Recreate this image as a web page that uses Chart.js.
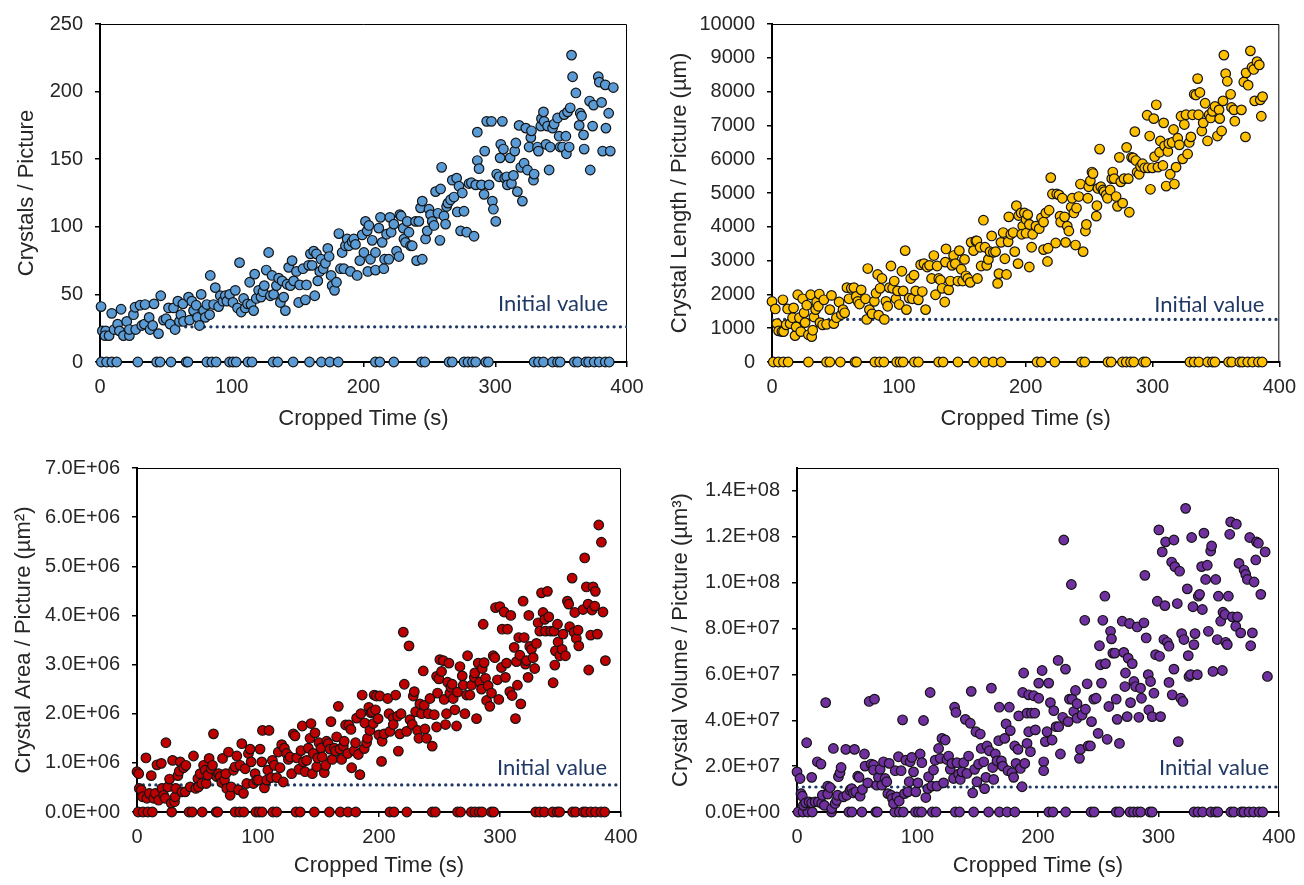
<!DOCTYPE html>
<html lang="en">
<head>
<meta charset="UTF-8">
<title>Crystal growth per picture</title>
<script src="https://cdn.jsdelivr.net/npm/chart.js"></script>
<style>
    body { margin: 0; background: #fff; width: 1304px; height: 885px; position: relative; overflow: hidden; }
    canvas { position: absolute; }
</style>
</head>
<body>
<canvas id="countChart" width="652" height="435" style="left:0;top:0"></canvas>
<canvas id="lengthChart" width="652" height="435" style="left:652px;top:0"></canvas>
<canvas id="areaChart" width="652" height="442" style="left:0;top:440px"></canvas>
<canvas id="volumeChart" width="652" height="442" style="left:652px;top:440px"></canvas>
<script>
// pictures with no crystals (value 0), same times in every panel
const zeroTimes = [1,5,9,12.7,28.7,43,45.6,53.9,65.4,66.7,81.1,84.9,88.2,98.3,100.9,103.4,112.3,115.4,131.4,134.9,146.6,159,168,174.4,180.8,
    209,212.4,223,244,246.6,264.9,267.4,276.3,279.3,282.7,285.2,292.8,294.8,329.5,332.8,336.6,343.5,347.3,349.3,360,362.5,368.8,370.9,375.1,378.9,383.5,386.5];

// [time s, crystals per picture]
const crystalsPts = [[0.8,41],[1.8,23],[4.3,23],[3.8,19.5],[6.9,19.5],[8.9,36],[10.7,24],[13.4,28],[16,39],[14.7,23],[17.8,19.5],[22.3,19.5],[20.3,30],[22.3,24],[25.4,35],[26.6,40.5],[27.1,24],[30.4,42],[31.7,27],[33.7,28],[34.2,42.5],[37.3,33],[38,24],[40,27],[41,43],[44.4,21],[46.1,49],[48.2,31],[50.2,32],[52,40],[53.2,28],[55.8,40],[57,24],[59.1,45],[60.3,30],[61.4,35],[62.9,43],[63.4,30],[67.2,48],[68,31],[69.7,45],[71,38],[73,42],[74,33],[75.5,27],[76.8,50],[78.6,38],[79.9,33],[81.1,42.5],[83.2,35],[83.7,64],[86.2,42.5],[87.5,55],[90,41],[91.3,49],[93.3,45],[95.1,49],[96.3,45],[98.4,50],[100.9,44],[102.7,53],[104.4,40],[105.9,73.5],[107.2,37],[109,47],[110.3,40],[112,43],[113.6,59],[114.6,42.5],[116.6,38],[117.4,65],[118.6,47],[120.4,53],[122.2,48],[123.7,52],[124.7,56.5],[126.2,68],[128,81],[129.3,49],[130.6,64],[131.8,50],[133.9,56.5],[135.6,62],[136.9,44],[138.2,60],[139.4,48],[140.7,38],[142,57.5],[143.2,70],[144.5,56.5],[145.8,75],[147,60],[149.1,67],[150.8,44],[151.6,57],[154.1,69],[155.9,46],[156.7,57],[158.4,71.5],[159.7,80],[161,71.5],[162.2,82],[163,49],[164.3,80],[165.3,60],[166.8,67],[167.8,76],[169.4,69],[171.1,73],[172.9,84],[173.9,78],[175.4,64],[176.2,56.5],[178,53],[179.5,59],[181.3,95],[182.5,69],[183.8,81],[185.1,69],[186.3,86],[187.6,91],[188.9,86],[190.1,67],[191.4,89],[192.7,91],[193.9,87],[195.2,64],[197.2,75],[199,94],[200.3,81],[201.5,104],[203.3,67],[202.8,97],[204.1,101],
    [206.6,90],[205.3,76],[209.1,81],[209.1,68],[211.6,99],[212.9,107],[214.2,88.5],[216,76],[215.4,69],[217.5,94.5],[219.2,76],[220,107],[221,96],[223,102],[225.1,82],[226.9,78],[227.6,109],[228.6,108],[230.2,99],[230.7,91],[231.9,88.5],[233.2,104],[234.5,96],[235.7,86],[237,86],[239.5,104],[240.3,75],[242,104],[244.6,76],[243.3,114],[244.6,119],[247.1,91],[248.4,97],[249.7,113],[250.9,109],[252.2,104],[253.5,101],[254.7,126],[256.5,110],[258,90],[258.5,128],[259.3,144],[261.1,108],[262.3,102],[263.1,115],[264.1,117.5],[266.1,120],[267.4,134.5],[268.7,122],[270.7,136],[271.2,111],[272.5,130],[273.7,97],[275,125],[276.3,111.5],[278.3,96],[280.1,132],[281.9,132.6],[283.9,93],[285.2,131],[286.4,170],[286.4,149],[287.7,143],[289.5,131],[291.5,124],[292,156],[293.5,178],[295.3,131],[297.1,178],[297.8,119],[298.6,113],[300.4,104],[301.1,139],[302.9,137],[304.2,161],[303.7,151],[305.4,178],[306.2,157.5],[307.2,136],[308.7,137],[309.2,131],[311.3,151],[312.3,132],[313.8,138],[314.8,156],[315.6,162],[316.8,126],[318.1,175],[319.4,144],[320.6,119],[321.9,147],[323.2,173],[324.5,142],[325.7,159],[327,166],[327.5,171],[329,134.5],[329.5,139],[332.1,159],[332.8,156],[334.6,174.5],[335.1,180],[336.6,185],[337.1,178],[338.6,161],[339.7,174.5],[340.9,142],[341.7,159],[343.5,173],[344.7,176],[347.3,180.5],[348.5,167],[349.3,159],[351.1,159],[352.3,183],[354,154],[353.6,167],[354.9,185],[356.1,159],[356.9,188],[357.9,227],[358.7,211],[361.2,199],[363.7,175],[364.5,184],[365.5,182],[367,168],[367.5,157.5],[371.6,193],[372.1,142],[373.9,174.5],[374.6,190],[378.2,211],[379,207],[380.7,192],[381.5,156],[383.5,205],[384,173],[386.1,184],[387.3,156],[389.6,203]];

// [time s, crystal length per picture in µm]
const lengthPts = [[0,1790],[2.6,1570],[3.9,1135],[5.2,920],[7.8,900],[9.1,900],[8.6,1840],[11.2,1100],[12.3,1570],[14.3,1135],[16.2,1310],[17,1600],[18.2,780],[19,1040],[20.3,1990],[21.6,1310],[22.7,900],[24.2,1870],[25.3,1455],[26.1,1165],[27.4,1680],[28.7,805],[30.5,1990],[31.3,750],[32.1,940],[33.1,1330],[34.4,1550],[35.2,1775],[36.5,1650],[37.3,2010],[37.8,1165],[39.9,1100],[40.9,1840],[43,1115],[45.6,1550],[46.9,1970],[48.7,1135],[50.8,1310],[52.9,1775],[54.7,1405],[56,1550],[57.3,1455],[59.1,2200],[60.7,1870],[62.5,2180],[64.6,2200],[66.4,1940],[67.7,1795],[69,1715],[70.3,2135],[73.7,1870],[74.7,1260],[75.5,2765],[76.8,1550],[78.9,1425],[80.7,1795],[82,2035],[83.3,2590],[84.1,1385],[85.2,2180],[86.7,2470],[88.6,1260],[89.8,1795],[91.2,1650],[92.5,2200],[93.8,2840],[95.1,2180],[96.4,2395],[97.7,1870],[99,2105],[100.3,1700],[102.4,2685],[103.4,2105],[105,3295],[106,1550],[108.1,1890],[109.4,2470],[110.7,1870],[112,2570],[113.3,2105],[115.4,1840],[117.2,2880],[118.5,2085],[119.8,2910],[121.1,1550],[122.4,2810],[124.2,2860],[125.8,2470],[127.6,3150],[128.9,1990],[130.2,2840],[131.5,2470],[132.8,2425],[134.1,2180],[136.2,1775],[136.7,2955],[137.2,3345],[139.3,2135],[140.6,2395],[141.9,2860],[143.2,3150],[144.5,2910],[146.6,2395],[147.7,3295],[149.2,2745],[150.3,2395],[151.8,3035],[152.9,2550],[154.4,2470],[156.3,2355],[157,3540],[158.9,3295],[160.7,3585],[161.5,3585],[162,2470],[164.1,3395],[164.9,2840],[166.7,4195],[168,3395],[169.3,2860],[170.6,3035],[171.9,3265],[173.2,3730],[174.5,3245],[176.3,3265],[177.9,2325],[178.9,2615],[180.5,3540],[182.3,3830],[183.6,3055],[184.9,2590],[186.2,3555],[186.7,4295],[188.3,3780],[190.1,3830],[191.4,3265],[192.7,4625],[194,2910],[194.5,4335],
    [196.4,4410],[197.7,4020],[199,4410],[200.3,4215],[201.6,4360],[196.9,3780],[200.3,3810],[202.9,4070],[205.5,3780],[202.9,2810],[204.7,3395],[208.1,4020],[210.7,3945],[212.5,4265],[214.1,4140],[214.1,3325],[215.9,4410],[217.2,2975],[217.7,3365],[218.5,4490],[219.8,5455],[221.1,4970],[223.7,3520],[224.5,4970],[226.3,4945],[227.1,4315],[227.6,4140],[228.9,4845],[230.7,4295],[231.5,3540],[232.8,4020],[234.1,3875],[235.9,4585],[236.7,4845],[238,4410],[239.3,3460],[240.1,4555],[241.9,4895],[243.2,5265],[245.3,3265],[247.1,3875],[247.9,4070],[249,4845],[249.7,5185],[251,5360],[252.3,5620],[253.1,5575],[255.7,4315],[256.2,4625],[257,5135],[258.3,6300],[259.3,5185],[260.9,5090],[261.9,5040],[263.5,4945],[264.5,4845],[266.6,5090],[267.9,5425],[268.7,5620],[269.8,5425],[271.3,4895],[272.4,4605],[273.9,6055],[275,5330],[276.5,4700],[277.6,5425],[279.6,6350],[280.9,5425],[281.7,4430],[283.5,6055],[284.8,6040],[286.1,6815],[286.9,5960],[287.9,5620],[289.5,5555],[290.6,5785],[292.1,5865],[293.9,5745],[295.8,7300],[296.5,5745],[297.8,6685],[298.4,5110],[299.9,5745],[301,7200],[301.7,6075],[303,7610],[304.3,5765],[305.6,6205],[306.2,6540],[308.2,5815],[308.8,7075],[309.5,6395],[310.8,5205],[312.1,6230],[312.9,6465],[314,5555],[315.5,6495],[316.6,6880],[317.3,5265],[318.6,5765],[319.9,6620],[321.2,6425],[322.5,7270],[323.8,6010],[325.1,7025],[326.4,7315],[327.7,6155],[329,6495],[330.3,6660],[331.6,7315],[332.9,7920],[334.3,7900],[335.6,8385],[336.3,7315],[337.4,7975],[338.9,6835],[340,7075],[341.5,7655],[343.4,6540],[344.7,7315],[345.9,7220],[347.3,7415],[349.3,7560],[351.2,6685],[352.5,7460],[353,7200],[354.5,6835],[355.6,7725],[356.3,9080],[357.7,8530],[359,8305],[361.6,7920],[362.3,7530],[364.2,7460],[364.9,7125],[370.1,7460],[372,8285],[373.3,6660],[373.8,8555],[375.4,8190],[377.2,9205],[378.5,8720],[379.8,8655],[380.6,7725],[382.4,8885],[384.2,8790],[385,7755],[385.8,7270],[386.8,7850]];

// [time s, crystal area per picture in 10^6 µm²]
const areaPts = [[0,0.82],[1.4,0.78],[1.9,0.48],[3.5,0.45],[4.6,0.31],[7.4,1.10],[8.2,0.28],[10.2,0.38],[11.8,0.74],[13.7,0.28],[15.1,0.38],[16.5,0.96],[17.8,0.24],[20.1,0.99],[20.6,0.48],[22,0.34],[23.3,0.28],[23.9,1.41],[25.6,0.51],[26.9,0.67],[28.3,0.18],[29.4,1.05],[31,0.21],[31.6,0.31],[32.1,0.48],[33.8,0.74],[34.9,0.83],[35.7,1.02],[37.1,0.41],[38.5,0.90],[40.4,0.95],[39.8,0.41],[44,0.51],[46.7,1.14],[48.6,0.48],[50.3,0.68],[50.8,0.51],[52.2,0.78],[53.6,0.58],[55,0.95],[56.4,0.85],[57.2,0.58],[58.5,0.75],[59.6,1.09],[61.3,0.88],[62.4,0.95],[63.2,1.59],[66,0.72],[67.4,0.78],[68.7,0.72],[70.1,0.60],[70.7,1.09],[72.3,0.65],[73.4,0.78],[74.2,0.48],[75.6,1.22],[77,0.34],[77.8,0.51],[79.7,0.85],[81.1,0.92],[82.5,1.14],[83.9,0.45],[85.2,0.95],[86.6,1.39],[88,0.38],[89.4,0.88],[90.7,0.58],[92.1,1.19],[93.5,1.28],[94.3,1.02],[96.2,0.58],[97.6,0.78],[99,0.65],[100.4,0.65],[101.7,1.28],[103.1,1.02],[103.7,1.66],[105.3,0.49],[107.2,0.65],[108.1,0.85],[109.1,1.66],[110.8,0.70],[111.9,1.05],[113.5,0.95],[115.5,0.70],[116.8,1.22],[118.2,0.90],[119.6,1.37],[120.9,0.61],[121.8,1.30],[123.7,1.19],[125.1,1.07],[126.5,1.12],[127.8,0.78],[129.2,1.59],[130.6,1.55],[132,1.10],[133.9,0.87],[135.5,1.25],[136.6,1.75],[137.5,1.02],[138.9,0.82],[140.2,1.05],[141.6,1.30],[143,1.50],[143.8,1.80],[144.9,0.78],[145.7,1.19],[147.1,1.61],[148.5,0.92],[149.3,1.10],[150.4,1.41],[152,1.30],[153.1,1.12],[154.8,0.80],[155.9,0.95],[156.7,1.44],[158.1,1.39],[159.5,1.28],[160.3,1.84],[161.4,1.07],[163,1.30],[164.1,1.24],[165,1.53],[166.4,2.15],[167.7,1.28],[169.1,1.07],[170.5,1.34],[171.3,1.44],[172.4,1.77],[174.1,1.19],[175.1,1.77],[176.8,1.68],[177.4,0.90],[179.5,1.25],[180.6,1.41],[181.5,1.91],[182.9,1.17],[184.2,0.76],[185,2.0],[186.1,2.38],[187.8,1.29],[188.3,1.81],[189.7,1.41],[190.5,1.50],[191.6,2.13],[192.5,1.66],[193.3,2.02],[194.4,2.04],[195.2,1.80],[196,2.38],[197.1,2.08],[197.9,2.36],[199.3,1.90],[199.9,1.57],[200.7,2.36],[202.1,1.03],[202.6,1.44],[204.3,1.59],
    [207.2,2.31],[208.3,2.0],[209.1,1.64],[211.8,1.91],[211.8,1.78],[213.8,2.38],[215.4,1.95],[216,1.24],[218.2,2.0],[217.3,1.59],[220.1,3.66],[220.9,2.60],[222.8,1.64],[224.8,3.38],[225.6,1.88],[227.5,1.78],[228.3,2.36],[229.2,2.45],[230.3,2.04],[231.9,1.66],[233,1.50],[233.8,2.20],[235.2,2.0],[236.6,2.87],[237.4,2.17],[238,1.69],[239.3,1.50],[240.7,2.0],[242.1,2.31],[244,1.34],[245.7,1.98],[247.6,2.76],[247.6,1.73],[248.4,2.42],[249.5,2.71],[250.3,3.10],[251.7,2.86],[253.1,3.08],[253.9,2.29],[255,1.78],[255.8,2.0],[256.7,2.64],[257.8,3.03],[258.6,2.42],[259.4,2.54],[260.5,2.60],[261.3,2.31],[262.7,2.08],[264.1,1.75],[264.9,2.44],[266.9,2.96],[268.8,2.77],[269.6,2.58],[271,2.0],[272.4,2.38],[273.2,3.18],[275.1,2.38],[276.5,2.58],[278.7,2.74],[279.2,2.83],[280.6,1.90],[282,3.03],[283.4,2.64],[284.7,2.50],[285.3,2.92],[286.1,3.82],[286.9,3.04],[288,2.72],[288.9,2.27],[290.2,2.57],[291.6,2.15],[293,2.42],[294.4,3.18],[295.7,3.14],[296.3,4.16],[297.9,2.69],[299,2.29],[299.9,4.18],[301.2,2.94],[301.8,3.72],[303.4,4.07],[304.5,2.74],[306.2,3.72],[305.4,3.03],[308.1,2.45],[308.9,4.0],[310,2.37],[311.7,3.35],[312.8,1.90],[313.6,3.06],[314.4,2.58],[315.5,3.55],[316.4,3.19],[317.2,2.2],[319.1,4.29],[320,3.55],[321,3.01],[321.9,3.08],[323.2,2.74],[323.8,4.0],[324.6,3.37],[326,3.31],[327.4,3.14],[328.7,2.92],[330.1,3.43],[331.5,3.85],[332.9,3.68],[334.3,4.46],[335.6,4.06],[337,3.92],[337.6,3.68],[339.2,4.49],[340.3,3.97],[341.9,3.68],[343.9,2.63],[344.7,3.68],[345.3,2.99],[345.8,3.28],[347.5,3.82],[348,3.46],[349.4,3.18],[351.3,3.31],[352.1,3.62],[354.1,3.18],[355.7,4.29],[356.8,4.23],[357.6,3.77],[359.6,4.76],[361.2,3.66],[361.8,4.06],[363.1,3.53],[364.5,3.70],[365.1,3.38],[368.6,4.12],[370,5.17],[371.4,4.58],[372.8,4.23],[373.3,2.89],[375,3.60],[376.1,4.11],[376.9,4.58],[378.3,4.19],[378.8,4.49],[380.5,3.62],[381.6,5.84],[383.8,5.49],[385.1,4.07],[387.1,3.08]];

// [time s, crystal volume per picture in 10^7 µm³]
const volumePts = [[0,1.75],[2.5,1.46],[3.3,0.80],[4.4,0.69],[5.3,0.29],[7.2,0.40],[10,0.44],[12.2,0.40],[15,0.44],[17.7,0.44],[20.5,0.37],[22.7,0.29],[8,3.02],[12.2,1.51],[16.9,2.19],[19.9,2.09],[21,0.73],[23.8,4.77],[25.5,1.13],[25.5,0.78],[27.4,1.07],[28.8,0.15],[30.2,2.77],[31.6,0.37],[33,0.51],[33.8,0.73],[34.4,1.54],[35.7,1.71],[36.6,1.94],[38.5,0.66],[40.5,2.73],[41.3,0.73],[44,0.95],[45.4,1.02],[46.8,0.83],[47.7,2.73],[48.8,0.88],[50.4,1.56],[51.5,1.51],[52.4,0.69],[54.3,0.98],[56,2.53],[56.5,2.0],[58.7,1.27],[59.9,4.82],[61.5,2.09],[63.5,2.05],[64.3,4.92],[63.5,1.83],[66.2,1.17],[67.6,1.51],[69,1.86],[70.4,1.17],[71.8,2.19],[73.1,1.46],[74.5,1.32],[75.4,0.80],[76.5,2.12],[78.1,0.73],[79.2,0.59],[80.1,0.37],[81.5,1.80],[82.8,0.66],[84.2,2.41],[84.8,0.48],[86.4,1.80],[87.6,4.02],[89.2,0.80],[90.3,2.26],[92,0.88],[93.1,1.32],[93.9,2.19],[95.3,2.38],[96.7,1.75],[98.6,0.88],[100.3,1.27],[102.2,2.53],[103.6,2.15],[105,3.99],[106.9,0.63],[108.6,1.02],[109.2,1.54],[110.5,5.21],[111.9,1.13],[113.3,1.83],[114.7,2.26],[116.1,1.13],[117.5,2.77],[118.9,2.34],[120.3,3.21],[121.6,1.27],[123,3.14],[124.4,2.29],[125.8,2.44],[127.2,1.86],[128.6,2.12],[129.9,1.46],[130.8,4.57],[131.9,4.34],[132.7,2.15],[134.1,1.65],[135.5,1.42],[136.9,1.75],[138.3,2.15],[139.7,4.04],[141,1.68],[142.4,2.44],[143.8,3.87],[144.6,5.26],[145.8,0.83],[147.4,1.86],[148.5,3.50],[149.3,1.32],[150.7,2.09],[152.1,3.40],[152.9,2.77],[154.9,2.19],[155.7,1.02],[156.8,1.51],[157.7,2.88],[159.6,2.67],[161.3,5.40],[162.4,1.94],[163.2,1.42],[164.6,2.53],[166,2.23],[167.4,3.11],[167.9,4.57],[169.6,2.23],[170.7,2.0],[172.4,3.21],[173.5,3.84],[175.1,1.80],[176.2,4.57],[177,3.55],[178.4,1.71],[179.8,1.51],[180.7,2.88],[181.8,2.12],[183.4,2.73],[184,4.19],[185.4,1.90],[186.8,1.10],[187.3,5.21],[188.1,6.06],[189,2.12],
    [192.3,5.11],[190.9,4.31],[194.5,4.31],[196.4,5.07],[197.3,4.31],[200.6,5.62],[200.6,4.96],[203.4,6.17],[192.3,3.50],[190.9,2.99],[193.7,2.63],[197.8,3.58],[206.1,3.07],[208.9,5.62],[204.7,2.19],[204.7,1.80],[207.5,3.50],[210.3,4.77],[211.7,3.14],[213.1,4.42],[215,3.72],[216.7,6.61],[217.2,3.72],[218.6,2.53],[220.5,4.13],[221.4,11.86],[222.8,6.23],[225,3.94],[226.1,4.92],[227.7,9.92],[228.3,4.92],[229.7,4.38],[231.1,5.30],[232.4,4.09],[232.4,4.72],[234.4,2.34],[235.2,2.73],[236.6,4.23],[238.8,8.36],[239.4,4.48],[240.8,5.59],[241.6,2.88],[243.5,2.88],[244.4,3.94],[246.3,4.92],[248.2,4.96],[249.9,3.43],[251,7.25],[251.8,6.42],[252.7,5.62],[253.8,8.36],[255.5,9.41],[256,6.47],[257.4,3.17],[258.8,4.60],[260.2,7.88],[261,7.55],[262.1,6.93],[263.8,6.93],[264.9,4.92],[265.7,4.04],[267.6,2.99],[269.9,8.32],[271.2,6.96],[272.6,6.06],[272.1,5.47],[274,4.16],[274.8,6.71],[276,8.22],[276.8,4.77],[278.2,6.47],[279.6,5.69],[281,5.47],[282.3,8.07],[283.7,4.13],[285.1,5.40],[285.9,4.96],[287.9,8.25],[288.7,10.32],[289.8,7.59],[291.5,5.99],[292,4.45],[293.4,5.69],[294.8,4.16],[296.2,5.18],[297.6,6.86],[299,9.19],[300.3,12.30],[300.9,6.79],[301.7,4.16],[303.1,11.34],[304.5,7.52],[305.3,9.0],[305.9,11.78],[307.3,7.40],[308.7,7.23],[308.7,5.65],[310.9,10.9],[311.4,5.11],[312.8,11.86],[312.8,6.23],[313.6,10.7],[315.6,9.09],[316.4,3.07],[317.5,10.5],[318.4,4.96],[319.2,7.78],[320.3,4.82],[321.1,7.52],[322.5,13.24],[323.9,9.73],[324.7,6.82],[325.3,5.91],[326.7,5.99],[327.5,11.97],[328.6,8.95],[329.4,7.30],[330.3,7.78],[332.2,5.99],[333,9.41],[334.1,9.49],[335.8,10.7],[336.4,8.83],[337.7,12.16],[339.1,10.14],[340.5,10.76],[341.4,7.88],[343.3,11.38],[344.1,11.6],[345.2,6.13],[347.5,10.14],[348.8,7.52],[349.7,9.41],[351.6,8.32],[353,6.17],[353.5,8.71],[355.2,8.61],[355.8,7.40],[357.1,7.30],[358,9.41],[359.1,12.11],[359.9,12.65],[361.3,8.51],[364.1,8.10],[364.6,12.55],[365.5,8.51],[366.8,10.84],[368.2,7.81],[371,10.55],[372.4,10.36],[373.8,10.14],[375.7,11.97],[377.9,7.81],[376.5,7.25],[379.3,10.03],[380.7,10.99],[381.3,11.78],[382.9,11.72],[384.9,9.49],[388.5,11.34],[390.4,5.91]];

// axis ticks
const timeTicks = [0, 100, 200, 300, 400];
const countTicks = [0, 50, 100, 150, 200, 250];
const lengthTicks = [0, 1000, 2000, 3000, 4000, 5000, 6000, 7000, 8000, 9000, 10000];
const areaTicks = [0, 1e6, 2e6, 3e6, 4e6, 5e6, 6e6, 7e6];
const volumeTicks = [0, 2e7, 4e7, 6e7, 8e7, 1e8, 1.2e8, 1.4e8];

// initial values (dotted line) and where the line starts
const initialValues = [26, 1260, 0.55e6, 1.09e7];
const initialFrom = [65, 0, 0, 0];

const tickFont = { family: "'Liberation Sans', Arial, sans-serif", size: 20 };
const titleFont = { family: "'Liberation Sans', Arial, sans-serif", size: 22 };
const textColor = '#262626';

function sci(v) {
    if (v === 0) return '0.0E+00';
    const e = Math.floor(Math.log10(v) + 1e-9);
    const m = v / Math.pow(10, e);
    return m.toFixed(1) + 'E+' + String(e).padStart(2, '0');
}

// thin frame on top/right and the "Initial value" label
const framePlugin = {
    id: 'frame',
    beforeDatasetsDraw(chart) {
        const { ctx, chartArea: a } = chart;
        ctx.save();
        ctx.strokeStyle = '#000';
        ctx.lineWidth = 1;
        ctx.beginPath();
        ctx.moveTo(a.left, a.top + 0.5);
        ctx.lineTo(a.right - 0.5, a.top + 0.5);
        ctx.lineTo(a.right - 0.5, a.bottom);
        ctx.stroke();
        ctx.restore();
    },
    afterDatasetsDraw(chart, args, opts) {
        const { ctx, chartArea: a, scales } = chart;
        const y = scales.y.getPixelForValue(opts.value);
        ctx.save();
        ctx.font = '22px Lato, sans-serif';
        ctx.fillStyle = '#203864';
        ctx.textAlign = 'right';
        ctx.textBaseline = 'middle';
        ctx.fillText('Initial value', a.right - opts.dx, y - opts.dy);
        ctx.restore();
    }
};

function makePanel(p) {
    const pts = zeroTimes.map(t => ({ x: t, y: 0 }))
        .concat(p.pts.map(d => ({ x: d[0], y: d[1] * p.unit })));
    return new Chart(document.getElementById(p.id), {
        type: 'scatter',
        data: {
            datasets: [{
                data: pts,
                backgroundColor: p.color,
                borderColor: '#141414',
                borderWidth: 1.2,
                pointRadius: 4.8,
                clip: false,
                order: 1
            }, {
                data: [{ x: p.from, y: p.init }, { x: 400, y: p.init }],
                showLine: true,
                borderColor: '#203864',
                borderWidth: 3.2,
                borderDash: [0.1, 6.2],
                borderCapStyle: 'round',
                pointRadius: 0,
                order: 2
            }]
        },
        options: {
            responsive: false,
            animation: false,
            events: [],
            layout: { padding: p.pad },
            plugins: {
                legend: { display: false },
                tooltip: { enabled: false },
                frame: { value: p.init, dx: p.dx, dy: p.dy }
            },
            scales: {
                x: {
                    type: 'linear', min: 0, max: 400,
                    afterBuildTicks(s) { s.ticks = timeTicks.map(v => ({ value: v })); },
                    ticks: { color: textColor, font: tickFont, padding: 8 },
                    grid: { drawOnChartArea: false, color: '#000', lineWidth: 1.5, tickLength: 5 },
                    border: { color: '#000', width: 2 },
                    title: { display: true, text: 'Cropped Time (s)', color: textColor, font: titleFont, padding: { top: 4, bottom: 3 } },
                    afterFit(s) { s.height = p.xHeight; }
                },
                y: {
                    type: 'linear', min: 0, max: p.yMax,
                    afterBuildTicks(s) { s.ticks = p.yTicks.map(v => ({ value: v })); },
                    ticks: { color: textColor, font: tickFont, padding: 12, callback: p.fmt },
                    grid: { drawOnChartArea: false, color: '#000', lineWidth: 1.5, tickLength: 5 },
                    border: { color: '#000', width: 2 },
                    title: { display: true, text: p.title, color: textColor, font: titleFont, padding: { top: 3, bottom: 4 } },
                    afterFit(s) { s.width = p.yWidth; }
                }
            }
        },
        plugins: [framePlugin]
    });
}

const plain = v => String(v);

makePanel({ id: 'countChart', pts: crystalsPts, unit: 1, color: '#5B9BD5', init: initialValues[0], from: initialFrom[0],
    yMax: 250, yTicks: countTicks, fmt: plain, title: 'Crystals / Picture',
    pad: { left: 11, top: 17, right: 25, bottom: 0 }, yWidth: 89, xHeight: 73, dx: 19, dy: 23 });
makePanel({ id: 'lengthChart', pts: lengthPts, unit: 1, color: '#FFC000', init: initialValues[1], from: initialFrom[1],
    yMax: 10000, yTicks: lengthTicks, fmt: plain, title: 'Crystal Length / Picture (µm)',
    pad: { left: 12, top: 17, right: 21, bottom: 0 }, yWidth: 108, xHeight: 73, dx: 15, dy: 15 });
makePanel({ id: 'areaChart', pts: areaPts, unit: 1e6, color: '#C00000', init: initialValues[2], from: initialFrom[2],
    yMax: 7e6, yTicks: areaTicks, fmt: sci, title: 'Crystal Area / Picture (µm²)',
    pad: { left: 8, top: 28, right: 31, bottom: 0 }, yWidth: 129, xHeight: 70, dx: 14, dy: 17 });
makePanel({ id: 'volumeChart', pts: volumePts, unit: 1e7, color: '#7030A0', init: initialValues[3], from: initialFrom[3],
    yMax: 1.5e8, yTicks: volumeTicks, fmt: sci, title: 'Crystal Volume / Picture (µm³)',
    pad: { left: 13, top: 28, right: 25, bottom: 0 }, yWidth: 132, xHeight: 70, dx: 10, dy: 19 });
</script>
</body>
</html>
